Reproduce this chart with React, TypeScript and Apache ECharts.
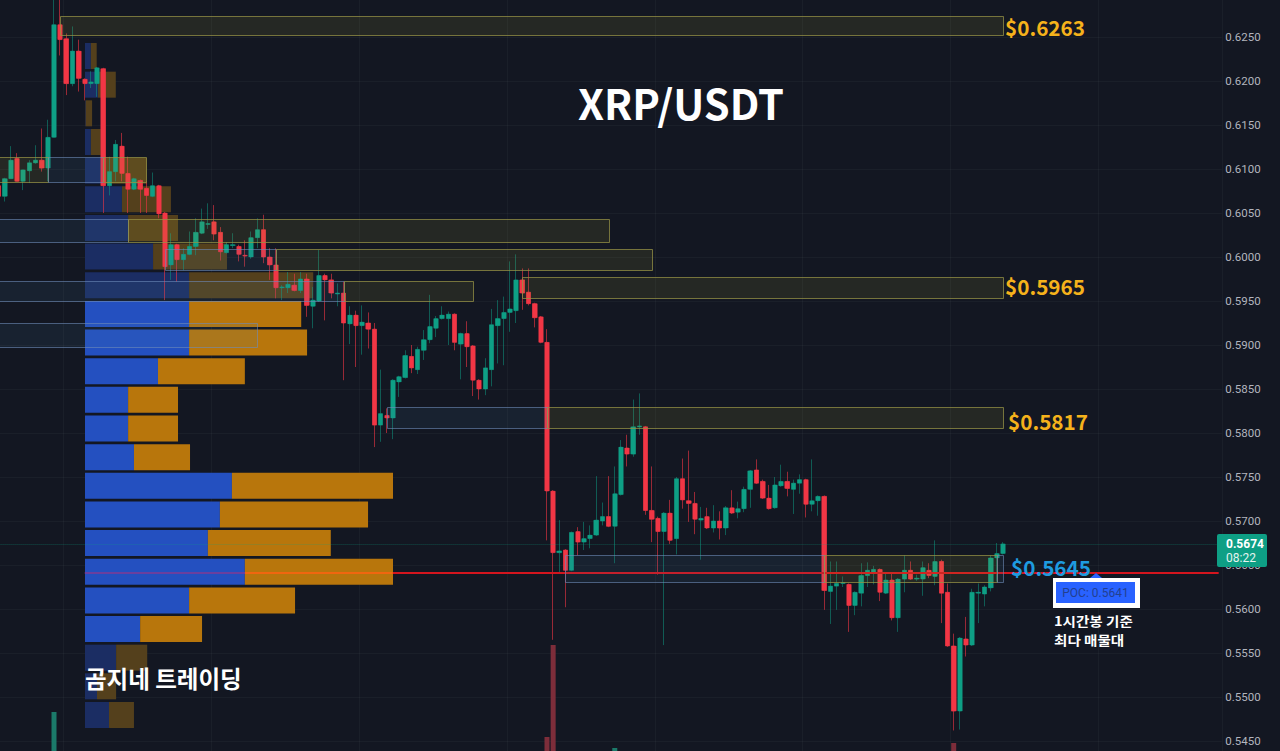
import React, { useEffect, useRef } from "react";
import * as echarts from "echarts";

// [open, close, low, high] per hourly candle
const candles: number[][] = [
  [0.6081,0.6069,0.6067,0.6084],[0.6069,0.6089,0.6063,0.6090],[0.6089,0.6110,0.6089,0.6126],[0.6112,0.6086,0.6086,0.6118],
  [0.6086,0.6099,0.6076,0.6099],[0.6098,0.6107,0.6084,0.6110],[0.6107,0.6110,0.6106,0.6127],[0.6110,0.6101,0.6097,0.6146],
  [0.6101,0.6136,0.6086,0.6156],[0.6136,0.6264,0.6136,0.6295],[0.6264,0.6247,0.6229,0.6295],[0.6248,0.6197,0.6184,0.6254],
  [0.6197,0.6234,0.6194,0.6262],[0.6234,0.6203,0.6188,0.6247],[0.6202,0.6197,0.6178,0.6203],[0.6197,0.6199,0.6192,0.6211],
  [0.6197,0.6215,0.6182,0.6216],[0.6214,0.6081,0.6050,0.6215],[0.6081,0.6097,0.6070,0.6114],[0.6097,0.6128,0.6086,0.6133],
  [0.6126,0.6095,0.6086,0.6141],[0.6095,0.6077,0.6050,0.6114],[0.6077,0.6089,0.6076,0.6090],[0.6087,0.6077,0.6050,0.6088],
  [0.6078,0.6070,0.6050,0.6086],[0.6069,0.6081,0.6068,0.6096],[0.6081,0.6049,0.6044,0.6082],[0.6050,0.5989,0.5951,0.6051],
  [0.5991,0.6014,0.5974,0.6027],[0.6014,0.5997,0.5972,0.6015],[0.5997,0.6003,0.5985,0.6010],[0.6003,0.6012,0.6002,0.6029],
  [0.6012,0.6028,0.6002,0.6044],[0.6027,0.6040,0.6026,0.6055],[0.6037,0.6038,0.6032,0.6061],[0.6040,0.6026,0.6019,0.6059],
  [0.6028,0.6006,0.5996,0.6034],[0.6005,0.6014,0.6004,0.6017],[0.6013,0.6014,0.6010,0.6027],[0.6012,0.6003,0.5995,0.6014],
  [0.6002,0.6001,0.5989,0.6019],[0.6000,0.6022,0.5998,0.6029],[0.6022,0.6031,0.6010,0.6044],[0.6031,0.6000,0.5993,0.6048],
  [0.6000,0.5991,0.5974,0.6010],[0.5991,0.5965,0.5953,0.6010],[0.5965,0.5966,0.5951,0.5968],[0.5965,0.5969,0.5959,0.5983],
  [0.5968,0.5962,0.5961,0.5981],[0.5962,0.5975,0.5959,0.5983],[0.5975,0.5945,0.5932,0.5981],[0.5944,0.5951,0.5919,0.5966],
  [0.5950,0.5979,0.5949,0.6008],[0.5979,0.5974,0.5928,0.5981],[0.5974,0.5959,0.5953,0.5981],[0.5958,0.5959,0.5944,0.5970],
  [0.5959,0.5925,0.5860,0.5972],[0.5924,0.5934,0.5901,0.5944],[0.5934,0.5922,0.5875,0.5939],[0.5922,0.5926,0.5889,0.5945],
  [0.5925,0.5918,0.5896,0.5937],[0.5918,0.5809,0.5784,0.5925],[0.5809,0.5822,0.5790,0.5872],[0.5820,0.5817,0.5800,0.5828],
  [0.5817,0.5860,0.5793,0.5861],[0.5858,0.5864,0.5841,0.5865],[0.5863,0.5888,0.5862,0.5894],[0.5887,0.5874,0.5868,0.5900],
  [0.5872,0.5895,0.5867,0.5898],[0.5894,0.5906,0.5883,0.5917],[0.5906,0.5921,0.5902,0.5957],[0.5919,0.5930,0.5909,0.5933],
  [0.5930,0.5934,0.5929,0.5944],[0.5930,0.5935,0.5900,0.5938],[0.5935,0.5903,0.5894,0.5936],[0.5901,0.5913,0.5861,0.5914],
  [0.5913,0.5898,0.5875,0.5927],[0.5899,0.5860,0.5842,0.5900],[0.5860,0.5850,0.5838,0.5861],[0.5850,0.5874,0.5843,0.5885],
  [0.5872,0.5923,0.5853,0.5941],[0.5922,0.5930,0.5879,0.5951],[0.5930,0.5937,0.5877,0.5955],[0.5937,0.5941,0.5915,0.5995],
  [0.5939,0.5974,0.5925,0.6003],[0.5974,0.5959,0.5940,0.5987],[0.5960,0.5947,0.5945,0.5987],[0.5947,0.5931,0.5920,0.5948],
  [0.5932,0.5903,0.5902,0.5933],[0.5903,0.5734,0.5678,0.5918],[0.5734,0.5664,0.5565,0.5735],[0.5664,0.5666,0.5642,0.5701],
  [0.5667,0.5644,0.5602,0.5668],[0.5644,0.5687,0.5643,0.5688],[0.5688,0.5676,0.5661,0.5693],[0.5676,0.5680,0.5667,0.5699],
  [0.5680,0.5684,0.5669,0.5695],[0.5684,0.5701,0.5683,0.5751],[0.5700,0.5705,0.5695,0.5721],[0.5705,0.5694,0.5693,0.5751],
  [0.5694,0.5731,0.5652,0.5762],[0.5730,0.5784,0.5729,0.5792],[0.5783,0.5776,0.5762,0.5798],[0.5776,0.5807,0.5773,0.5838],
  [0.5807,0.5808,0.5798,0.5845],[0.5807,0.5712,0.5707,0.5808],[0.5712,0.5702,0.5676,0.5762],[0.5703,0.5688,0.5639,0.5705],
  [0.5688,0.5709,0.5559,0.5710],[0.5709,0.5678,0.5674,0.5724],[0.5680,0.5748,0.5662,0.5750],[0.5748,0.5724,0.5714,0.5771],
  [0.5723,0.5720,0.5699,0.5780],[0.5720,0.5702,0.5685,0.5733],[0.5701,0.5703,0.5656,0.5716],[0.5705,0.5692,0.5691,0.5715],
  [0.5692,0.5700,0.5687,0.5718],[0.5700,0.5692,0.5679,0.5711],[0.5692,0.5715,0.5684,0.5717],[0.5715,0.5709,0.5708,0.5735],
  [0.5710,0.5714,0.5703,0.5722],[0.5714,0.5736,0.5710,0.5739],[0.5736,0.5757,0.5715,0.5758],[0.5758,0.5743,0.5742,0.5770],
  [0.5745,0.5726,0.5725,0.5747],[0.5726,0.5714,0.5713,0.5741],[0.5715,0.5741,0.5714,0.5750],[0.5740,0.5745,0.5739,0.5764],
  [0.5745,0.5737,0.5728,0.5756],[0.5736,0.5743,0.5708,0.5747],[0.5743,0.5747,0.5731,0.5753],[0.5747,0.5719,0.5704,0.5748],
  [0.5719,0.5723,0.5711,0.5770],[0.5723,0.5728,0.5706,0.5729],[0.5728,0.5621,0.5599,0.5729],[0.5620,0.5626,0.5583,0.5654],
  [0.5626,0.5629,0.5599,0.5654],[0.5629,0.5630,0.5625,0.5637],[0.5628,0.5604,0.5574,0.5629],[0.5604,0.5619,0.5593,0.5620],
  [0.5618,0.5638,0.5603,0.5652],[0.5638,0.5644,0.5625,0.5653],[0.5642,0.5645,0.5628,0.5649],[0.5645,0.5619,0.5609,0.5646],
  [0.5618,0.5633,0.5617,0.5640],[0.5633,0.5590,0.5587,0.5640],[0.5590,0.5634,0.5574,0.5635],[0.5634,0.5644,0.5619,0.5661],
  [0.5644,0.5634,0.5633,0.5654],[0.5634,0.5635,0.5632,0.5639],[0.5634,0.5647,0.5615,0.5654],[0.5644,0.5638,0.5635,0.5652],
  [0.5637,0.5654,0.5627,0.5678],[0.5654,0.5618,0.5584,0.5656],[0.5619,0.5558,0.5557,0.5629],[0.5558,0.5484,0.5462,0.5572],
  [0.5484,0.5567,0.5463,0.5568],[0.5566,0.5559,0.5546,0.5591],[0.5559,0.5619,0.5558,0.5623],[0.5618,0.5619,0.5584,0.5629],
  [0.5617,0.5625,0.5603,0.5627],[0.5624,0.5658,0.5620,0.5661],[0.5658,0.5663,0.5631,0.5675],[0.5663,0.5674,0.5662,0.5676],
];

const barSlots = 199;
const categories = Array.from({ length: barSlots }, (_, i) => String(i));

// Only the spikes that reach into the view: [candle number, volume]
const volumeSpikes: number[][] = [[9, 7.3], [89, 4.8], [90, 14.0], [100, 3.7], [155, 4.2]];

// Volume profile per price bin, top row first
const profileBuy = [1.9,4.2,0.2,1.9,5.2,12,14,22.1,33.8,33.8,33.8,23.7,14,14,15.9,47.7,43.8,39.9,51.9,33.8,17.9,10.1,3.9,7.8];
const profileSell = [1.9,5.8,2.1,3.2,14.9,15.9,16.2,24,40.3,36.4,38.3,28.2,16.2,16.2,18.2,52.3,48.1,39.9,48.1,34.4,20.1,10.1,6.2,8.1];
const valueAreaRows = [9,10,11,12,13,14,15,16,17,18,19,20];

// Supply/demand zones: kind, from candle, to candle, upper price, lower price
const zones: [string, number, number, number, number][] = [
  ["y", 10, 163, 0.62738, 0.62522],
  ["b", 0, 21, 0.60431, 0.60173],
  ["y", 21, 99, 0.60431, 0.60173],
  ["b", 27, 45, 0.6009, 0.59852],
  ["y", 45, 106, 0.6009, 0.59852],
  ["b", 0, 56, 0.59727, 0.595],
  ["y", 56, 77, 0.59727, 0.595],
  ["y", 85, 163, 0.59772, 0.59534],
  ["b", 0, 42, 0.5925, 0.58977],
  ["b", 63, 89, 0.58295, 0.58056],
  ["y", 89, 163, 0.58295, 0.58056],
  ["b", 92, 134, 0.56613, 0.56306],
  ["y", 134, 162, 0.56613, 0.56306],
  ["b", 162, 163, 0.56613, 0.56306],
  ["y", 0, 8, 0.61136, 0.60852],
  ["b", 8, 17, 0.61136, 0.60852],
  ["y", 17, 24, 0.61136, 0.60852],
];

const pocPrice = 0.5641;
const lastPrice = 0.5674;

const KR = '"Noto Sans CJK KR", "Noto Sans", sans-serif';
const UP = "#0e9f85";
const DOWN = "#f23645";

export default function App() {
  const ref = useRef<HTMLDivElement>(null);
  useEffect(() => {
    const chart = echarts.init(ref.current!, undefined, { renderer: "svg" });
    const bodies = candles.map(([o, c]) => [o, c, Math.min(o, c), Math.max(o, c)]);
    const volumes = categories.map(() => null as any);
    volumeSpikes.forEach(([i, v]) => (volumes[i] = {
      value: v,
      itemStyle: { color: candles[i][1] >= candles[i][0] ? "#1b7a6a" : "#7d2d3a" },
    }));
    const bright = (i: number) => valueAreaRows.includes(i);
    const txt = (x: number, y: number, text: string, font: number, fill: string, weight: any = "bold", extra: any = {}, scaleX = 1) => ({
      type: "text", x, y, z: 30, scaleX,
      style: { text, fill, fontFamily: KR, fontSize: font, fontWeight: weight, textVerticalAlign: "middle", ...extra },
    });
    chart.setOption({
      animation: false,
      backgroundColor: "#131722",
      grid: [
        { left: -4.54, top: -7, width: 1226.3, height: 792, outerBoundsMode: "none" },
        { left: 85, top: 41.7, width: 308, height: 687.6, outerBoundsMode: "none" },
      ],
      xAxis: [
        {
          type: "category", data: categories, gridIndex: 0,
          axisLine: { show: false }, axisTick: { show: false }, axisLabel: { show: false },
          splitLine: {
            show: true,
            interval: (i: number) => (i - 11) % 24 === 0,
            lineStyle: { color: "rgba(240,243,250,0.035)", width: 1 },
          },
        },
        { type: "value", gridIndex: 1, min: 0, max: 100, show: false },
      ],
      yAxis: [
        {
          type: "value", position: "right", gridIndex: 0, min: 0.54, max: 0.63, interval: 0.005,
          axisLine: { show: false }, axisTick: { show: false },
          splitLine: { show: true, lineStyle: { color: "rgba(240,243,250,0.035)", width: 1 } },
          axisLabel: {
            margin: 3.5, color: "#b2b5be", fontFamily: "Roboto, sans-serif", fontSize: 11.5,
            formatter: (v: number) => (v < 0.5449 || v > 0.6251 ? "" : v.toFixed(4)),
          },
        },
        { type: "value", gridIndex: 0, min: 0, max: 79.2, show: false, position: "left" },
        { type: "category", gridIndex: 1, inverse: true, show: false, data: profileBuy.map((_, i) => String(i)) },
      ],
      series: [
        {
          type: "bar", name: "buy", xAxisIndex: 1, yAxisIndex: 2, stack: "p", barWidth: 26, z: 1,
          data: profileBuy.map((v, i) => ({ value: v, itemStyle: { color: bright(i) ? "#2450c0" : "#1b2d63" } })),
        },
        {
          type: "bar", name: "sell", xAxisIndex: 1, yAxisIndex: 2, stack: "p", barWidth: 26, z: 1,
          data: profileSell.map((v, i) => ({ value: v, itemStyle: { color: bright(i) ? "#b8760c" : "#54401c" } })),
        },
        { type: "bar", name: "volume", xAxisIndex: 0, yAxisIndex: 1, barWidth: 5, z: 2, data: volumes },
        {
          type: "candlestick", name: "wicks", xAxisIndex: 0, yAxisIndex: 0, barWidth: 4, z: 3,
          itemStyle: {
            color: "rgba(14,159,133,0.5)", color0: "rgba(242,54,69,0.6)",
            borderColor: "rgba(14,159,133,0.5)", borderColor0: "rgba(242,54,69,0.6)", borderWidth: 1,
          },
          data: candles,
        },
        {
          type: "candlestick", name: "bodies", xAxisIndex: 0, yAxisIndex: 0, barWidth: 5.2, z: 4,
          itemStyle: { color: UP, color0: DOWN, borderColor: UP, borderColor0: DOWN, borderWidth: 0 },
          data: bodies,
        },
        {
          type: "custom", name: "zones", xAxisIndex: 0, yAxisIndex: 0, z: 5, silent: true,
          data: zones.map((z) => [z[1], z[2], z[3], z[4]]),
          encode: { x: [0, 1], y: [2, 3] },
          renderItem: (params: any, api: any) => {
            const a = api.coord([api.value(0), api.value(2)]);
            const b = api.coord([api.value(1), api.value(3)]);
            const yellow = zones[params.dataIndex][0] === "y";
            const x0 = Math.round(a[0]) + 0.5;
            const y0 = Math.round(a[1]) + 0.5;
            return {
              type: "rect",
              shape: { x: x0, y: y0, width: Math.round(b[0]) + 0.5 - x0, height: Math.round(b[1]) + 0.5 - y0 },
              style: {
                fill: yellow ? "rgba(172,163,60,0.12)" : "rgba(72,123,167,0.11)",
                stroke: yellow ? "rgba(150,146,70,0.75)" : "rgba(110,140,185,0.6)",
                lineWidth: 1,
              },
            };
          },
        },
        {
          type: "line", name: "levels", xAxisIndex: 0, yAxisIndex: 0, data: [], z: 6, silent: true,
          markLine: {
            silent: true, symbol: "none", animation: false, label: { show: false },
            data: [
              [
                { coord: [0, lastPrice], lineStyle: { color: "rgba(14,159,133,0.4)", type: "dotted", width: 1 } },
                { coord: [198, lastPrice] },
              ],
              [
                { coord: [14, pocPrice], lineStyle: { color: "#6a3f9e", type: "solid", width: 2 } },
                { coord: [40, pocPrice] },
              ],
              [
                { coord: [40, pocPrice], lineStyle: { color: "#f0660f", type: "solid", width: 2 } },
                { coord: [64, pocPrice] },
              ],
              [
                { coord: [64, pocPrice], lineStyle: { color: "#d4151e", type: "solid", width: 2 } },
                { coord: [198, pocPrice] },
              ],
            ],
          },
        },
      ],
      graphic: [
        txt(681, 102, "XRP/USDT", 41.5, "#ffffff", "bold", { textAlign: "center" }),
        txt(1005, 27, "$0.6263", 20.7, "#f5b21b"),
        txt(1005, 286, "$0.5965", 20.7, "#f5b21b"),
        txt(1008, 421, "$0.5817", 20.7, "#f5b21b"),
        txt(1011, 567, "$0.5645", 20.7, "#1e9be0"),
        { type: "polygon", z: 30, shape: { points: [[1090, 578], [1096, 573], [1102, 578]] }, style: { fill: "#2962ff" } },
        { type: "rect", z: 29, shape: { x: 1053, y: 578, width: 87, height: 30 }, style: { fill: "#ffffff" } },
        { type: "rect", z: 30, shape: { x: 1056, y: 582, width: 79, height: 21 }, style: { fill: "#2962ff" } },
        txt(1095.5, 592.5, "POC: 0.5641", 12, "#23408f", "normal", { textAlign: "center", fontFamily: "Roboto, sans-serif" }),
        txt(1054, 620.5, "1시간봉 기준", 13, "#ffffff", "bold", {}, 1.12),
        txt(1054, 639.5, "최다 매물대", 13, "#ffffff", "bold", {}, 1.12),
        txt(85, 678, "곰지네 트레이딩", 23.5, "#ffffff"),
        { type: "rect", z: 29, shape: { x: 1217, y: 534, width: 50, height: 33, r: 2 }, style: { fill: "#0e9f85" } },
        txt(1226, 544, "0.5674", 12, "#ffffff", "bold", { fontFamily: "Roboto, sans-serif" }),
        txt(1226, 558, "08:22", 12, "#e4f3ef", "normal", { fontFamily: "Roboto, sans-serif" }),
      ],
    });
    return () => chart.dispose();
  }, []);
  return <div ref={ref} style={{ position: "fixed", left: 0, top: 0, width: 1280, height: 751 }} />;
}
